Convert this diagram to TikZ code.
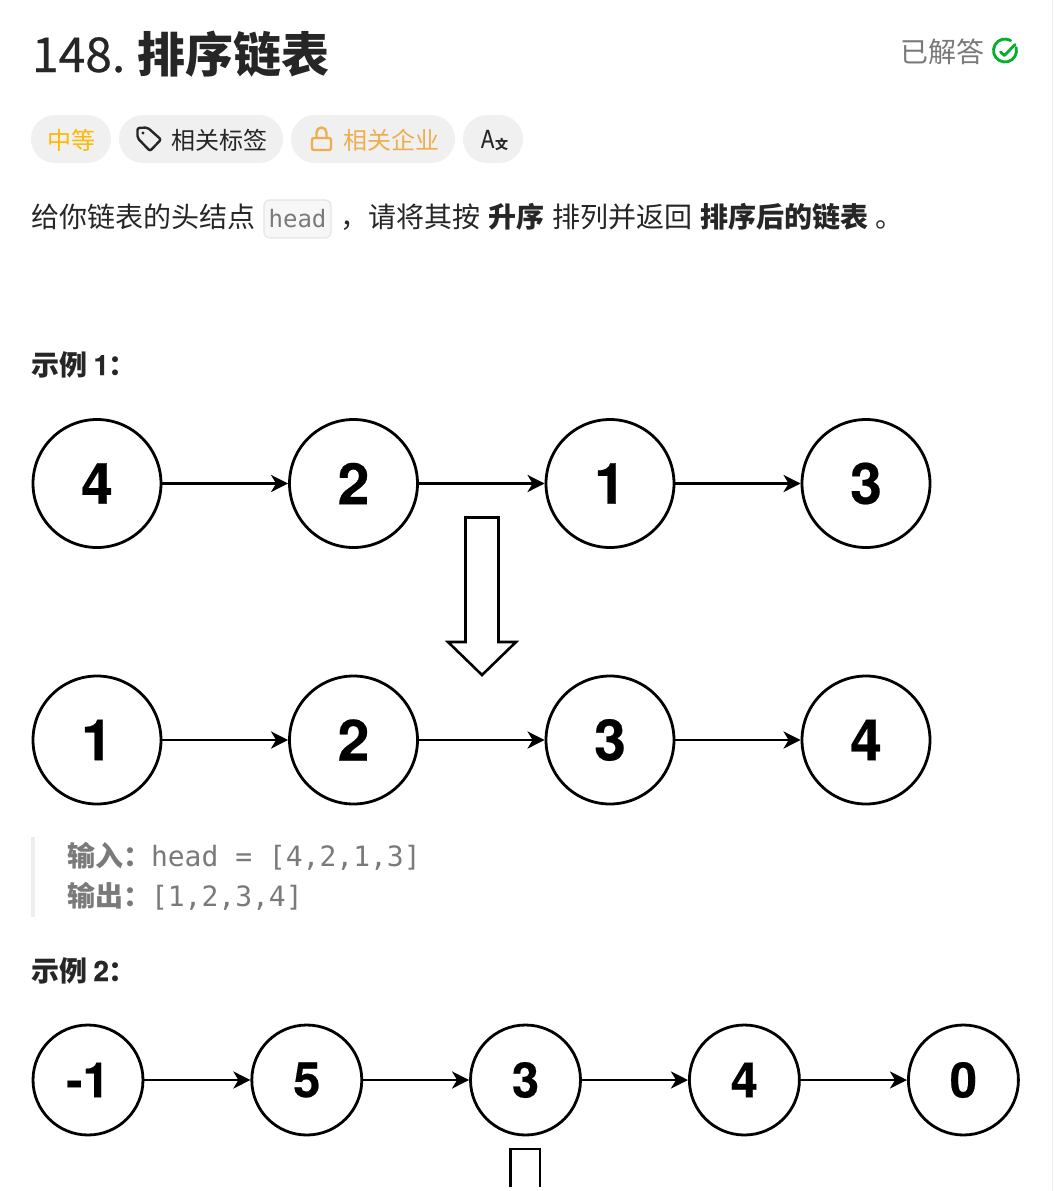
\documentclass[tikz,border=0pt]{standalone}
\usepackage{fontspec}
\usepackage{tikz}
\setmainfont{Noto Sans CJK SC}
\setmonofont{DejaVu Sans Mono}
\newfontfamily\digitfont[FakeBold=0.4]{TeX Gyre Heros}
\newfontfamily\iconfont[FakeStretch=0.85]{TeX Gyre Heros}
\newfontfamily\titlefont[FakeBold=0.5]{Noto Sans CJK SC}
\usetikzlibrary{arrows.meta,positioning}
\definecolor{TextBlack}{HTML}{262626}
\definecolor{TextGray}{HTML}{7A7A7A}
\definecolor{PillGray}{HTML}{F0F0F0}
\definecolor{QuoteBar}{HTML}{EEEEEE}
\definecolor{CodeFill}{HTML}{F7F7F7}
\definecolor{CodeLine}{HTML}{E6E6E6}
\definecolor{MediumGold}{HTML}{FFB800}
\definecolor{LockGold}{HTML}{EDAE4E}
\definecolor{DoneGreen}{HTML}{02B128}
\tikzset{
    % Base text style
    basetext/.style={
        inner sep=0pt,
        outer sep=0pt,
        text=TextBlack,
        font=\fontsize{28}{28}\selectfont
    },
    % Bold text
    boldtext/.style={
        basetext,
        font=\fontsize{28}{28}\selectfont\bfseries
    },
    % Tag pills
    tagpill/.style={
        fill=PillGray,
        rounded corners=24pt
    },
    % Tag text
    tagtext/.style={
        basetext,
        font=\fontsize{24}{24}\selectfont
    },
    % Gray text of the quote
    quotebold/.style={
        boldtext,
        text=TextGray
    },
    quotemono/.style={
        basetext,
        text=TextGray,
        font=\fontsize{28}{28}\selectfont\ttfamily
    },
    % List nodes, large
    bignode/.style={
        circle,
        draw=black,
        fill=white,
        line width=2.8pt,
        minimum size=128pt,
        inner sep=0pt,
        font=\fontsize{57}{57}\selectfont\digitfont\bfseries
    },
    % List nodes, small
    smallnode/.style={
        circle,
        draw=black,
        fill=white,
        line width=2.8pt,
        minimum size=110pt,
        inner sep=0pt,
        font=\fontsize{49}{49}\selectfont\digitfont\bfseries
    },
    % Arrow style
    myarrow/.style={
        -{Stealth[length=17pt,width=17pt,inset=5pt]},
        line width=2.9pt,
        draw=black
    },
    % Hollow arrow between the lists
    hollowarrow/.style={
        draw=black,
        fill=white,
        line width=2.6pt,
        miter limit=10
    },
    % Line icons
    iconline/.style={
        line width=2.4pt,
        line cap=round,
        line join=round
    }
}
\begin{document}
\begin{tikzpicture}[x=1pt,y=-1pt]
        \useasboundingbox (0,0) rectangle (1053,1191);
        \clip (0,0) rectangle (1053,1191);
        \fill[white] (0,0) rectangle (1053,1191);
        \draw[line width=1pt, color=QuoteBar] (1052,0) -- (1052,1191);

        % Title
        \node[basetext, anchor=base west, font=\fontsize{48}{48}\selectfont\titlefont] (num) at (32,72) {148.};
        \node[boldtext, anchor=base west, font=\fontsize{48}{48}\selectfont\bfseries] (title) at (137,72) {排序链表};
        \node[basetext, anchor=base west, text=TextGray] (solved) at (900,62) {已解答};
        \draw[iconline, color=DoneGreen, line width=2.8pt] (1010.75,40.54) arc (-60:-375:11.5);
        \draw[iconline, color=DoneGreen, line width=2.8pt] (1000.5,52) -- (1004.5,55.5) -- (1015,44.5);

        % Tags
        \fill[tagpill] (31,115) rectangle (111,163);
        \fill[tagpill] (119,115) rectangle (283,163);
        \fill[tagpill] (291,115) rectangle (455,163);
        \fill[tagpill] (463,115) rectangle (523,163);
        \node[tagtext, anchor=base west, text=MediumGold] (medium) at (47,149) {中等};
        \draw[iconline, color=TextBlack, rounded corners=2pt] (137.5,128) -- (147.5,127.5) -- (161,139.5) -- (150,151) -- (137.5,138) -- cycle;
        \fill[TextBlack] (143,133) circle (1.6pt);
        \node[tagtext, anchor=base west] (tags) at (171,149) {相关标签};
        \draw[iconline, color=LockGold, rounded corners=2pt] (312,138) rectangle (331,150);
        \draw[iconline, color=LockGold] (316.5,138) -- (316.5,132.5) arc (180:360:5) -- (326.5,138);
        \node[tagtext, anchor=base west, text=LockGold] (firms) at (343,149) {相关企业};
        \node[basetext, anchor=base west, font=\fontsize{25}{25}\selectfont\iconfont] (lang) at (480.5,148) {A};
        \node[basetext, anchor=base west, font=\fontsize{13}{13}\selectfont\bfseries] (langb) at (495,149) {文};

        % Description
        \node[basetext, anchor=base west] (d1) at (31,227) {给你链表的头结点};
        \node[draw=CodeLine, fill=CodeFill, line width=1.2pt, rounded corners=6pt, minimum width=67pt, minimum height=38pt, inner sep=0pt] (code) at (297.5,219) {};
        \node[basetext, anchor=base, text=TextGray, font=\fontsize{24}{24}\selectfont\ttfamily] (codetext) at (297.5,227) {head};
        \node[basetext, anchor=base west] (d2) at (340,227) {，请将其按};
        \node[boldtext, base right=8pt of d2] (d3) {升序};
        \node[basetext, base right=8pt of d3] (d4) {排列并返回};
        \node[boldtext, base right=8pt of d4] (d5) {排序后的链表};
        \node[basetext, base right=7pt of d5] (d6) {。};

        % Example 1
        \node[boldtext, anchor=base west] (ex1) at (31,375) {示例 {\digitfont\bfseries 1}：};

        % First list
        \node[bignode] (a1) at (97,483.5) {4};
        \node[bignode] (a2) at (353.5,483.5) {2};
        \node[bignode] (a3) at (610,483.5) {1};
        \node[bignode] (a4) at (866,483.5) {3};
        \draw[myarrow] (a1) -- (a2);
        \draw[myarrow] (a2) -- (a3);
        \draw[myarrow] (a3) -- (a4);

        % Hollow arrow
        \draw[hollowarrow] (465.5,517.5) -- (498.5,517.5) -- (498.5,642) -- (516,642) -- (482,675) -- (448,642) -- (465.5,642) -- cycle;

        % Second list
        \node[bignode] (b1) at (97,740) {1};
        \node[bignode] (b2) at (353.5,740) {2};
        \node[bignode] (b3) at (610,740) {3};
        \node[bignode] (b4) at (866,740) {4};
        \draw[myarrow] (b1) -- (b2);
        \draw[myarrow] (b2) -- (b3);
        \draw[myarrow] (b3) -- (b4);

        % Quote
        \fill[QuoteBar] (31,837) rectangle (35,917);
        \node[quotebold, anchor=base west] (in) at (67,866) {输入：};
        \node[quotemono, anchor=base west] (inval) at (151,866) {head = [4,2,1,3]};
        \node[quotebold, anchor=base west] (out) at (67,906) {输出：};
        \node[quotemono, anchor=base west] (outval) at (151,906) {[1,2,3,4]};

        % Example 2
        \node[boldtext, anchor=base west] (ex2) at (31,981) {示例 {\digitfont\bfseries 2}：};

        % Third list
        \node[smallnode] (c1) at (88,1080) {-1};
        \node[smallnode] (c2) at (306.8,1080) {5};
        \node[smallnode] (c3) at (525.5,1080) {3};
        \node[smallnode] (c4) at (744.4,1080) {4};
        \node[smallnode] (c5) at (963.4,1080) {0};
        \draw[myarrow] (c1) -- (c2);
        \draw[myarrow] (c2) -- (c3);
        \draw[myarrow] (c3) -- (c4);
        \draw[myarrow] (c4) -- (c5);

        % Hollow arrow, cut off by the page
        \draw[hollowarrow] (510.5,1187) -- (510.5,1149) -- (540,1149) -- (540,1187);
    \end{tikzpicture}
\end{document}
